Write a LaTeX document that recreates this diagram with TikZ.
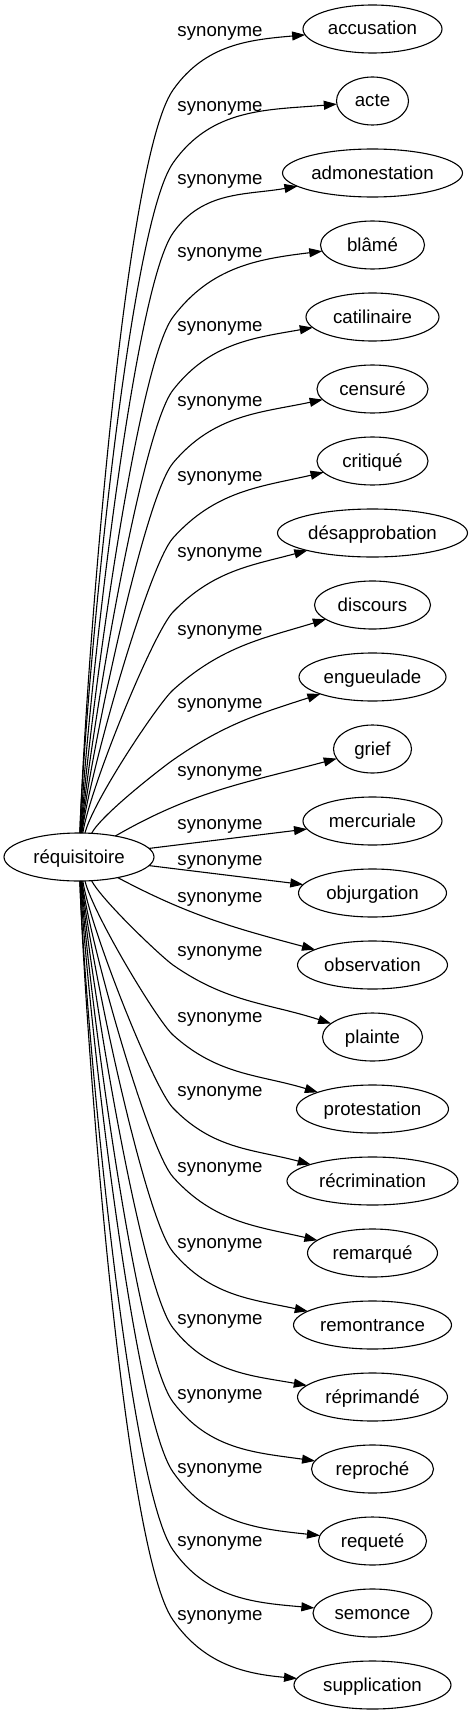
\documentclass[tikz,border=0pt]{standalone}
\usepackage{fontspec}
\setmainfont{Liberation Sans}
\usetikzlibrary{positioning, arrows.meta, shapes.geometric}

\begin{document}
\begin{tikzpicture}[
    x=1pt, y=1pt,
    line width=1.1pt,
    >={Triangle[length=13pt, width=9pt]},
    node distance=24pt,
    word/.style={
        ellipse,
        draw,
        inner sep=0pt,
        outer sep=0pt,
        minimum height=48pt,
        text height=14pt,
        text depth=2pt,
        font=\fontsize{18.67pt}{22pt}\selectfont
    },
    rel/.style={font=\fontsize{18.67pt}{22pt}\selectfont},
    arrow/.style={->}
]
\useasboundingbox (0,0) rectangle (472,-1715);

% Source word
\node[word, minimum width=150pt] (req) at (79,-857) {réquisitoire};

% Synonyms, one column
\node[word, minimum width=139pt] (acc) at (372.5,-29) {accusation};
\node[word, minimum width=72pt, below=of acc] (acte) {acte};
\node[word, minimum width=180pt, below=of acte] (admo) {admonestation};
\node[word, minimum width=104pt, below=of admo] (blame) {blâmé};
\node[word, minimum width=133pt, below=of blame] (cati) {catilinaire};
\node[word, minimum width=111pt, below=of cati] (cens) {censuré};
\node[word, minimum width=111pt, below=of cens] (crit) {critiqué};
\node[word, minimum width=190pt, below=of crit] (desa) {désapprobation};
\node[word, minimum width=116pt, below=of desa] (disc) {discours};
\node[word, minimum width=147pt, below=of disc] (engu) {engueulade};
\node[word, minimum width=78pt, below=of engu] (grief) {grief};
\node[word, minimum width=139pt, below=of grief] (merc) {mercuriale};
\node[word, minimum width=148pt, below=of merc] (obju) {objurgation};
\node[word, minimum width=150pt, below=of obju] (obse) {observation};
\node[word, minimum width=100pt, below=of obse] (plai) {plainte};
\node[word, minimum width=152pt, below=of plai] (prot) {protestation};
\node[word, minimum width=171pt, below=of prot] (recr) {récrimination};
\node[word, minimum width=130pt, below=of recr] (rema) {remarqué};
\node[word, minimum width=158pt, below=of rema] (remo) {remontrance};
\node[word, minimum width=150pt, below=of remo] (repr) {réprimandé};
\node[word, minimum width=122pt, below=of repr] (repro) {reproché};
\node[word, minimum width=108pt, below=of repro] (requ) {requeté};
\node[word, minimum width=119pt, below=of requ] (semo) {semonce};
\node[word, minimum width=157pt, below=of semo] (supp) {supplication};

% Edge labels
\node[rel] (syn1) at (220,-33) {synonyme};
\node[rel] (syn2) at (220,-108) {synonyme};
\node[rel] (syn3) at (220,-181) {synonyme};
\node[rel] (syn4) at (220,-254) {synonyme};
\node[rel] (syn5) at (220,-328) {synonyme};
\node[rel] (syn6) at (220,-403) {synonyme};
\node[rel] (syn7) at (220,-478) {synonyme};
\node[rel] (syn8) at (220,-554) {synonyme};
\node[rel] (syn9) at (220,-632) {synonyme};
\node[rel] (syn10) at (220,-705) {synonyme};
\node[rel] (syn11) at (220,-773) {synonyme};
\node[rel] (syn12) at (220,-826) {synonyme};
\node[rel] (syn13) at (220,-862) {synonyme};
\node[rel] (syn14) at (220,-899) {synonyme};
\node[rel] (syn15) at (220,-953) {synonyme};
\node[rel] (syn16) at (220,-1019) {synonyme};
\node[rel] (syn17) at (220,-1093) {synonyme};
\node[rel] (syn18) at (220,-1169) {synonyme};
\node[rel] (syn19) at (220,-1245) {synonyme};
\node[rel] (syn20) at (220,-1321) {synonyme};
\node[rel] (syn21) at (220,-1396) {synonyme};
\node[rel] (syn22) at (220,-1470) {synonyme};
\node[rel] (syn23) at (220,-1543) {synonyme};
\node[rel] (syn24) at (220,-1617) {synonyme};

% Arrows - upper fan
\draw[arrow] (req) to[out=88, in=235, out looseness=0.5, in looseness=0.3] (173,-90) to[out=55, in=185] (acc);
\draw[arrow] (req) to[out=88, in=235, out looseness=0.5, in looseness=0.3] (173,-163) to[out=55, in=185] (acte);
\draw[arrow] (req) to[out=87, in=235, out looseness=0.5, in looseness=0.3] (173,-233) to[out=55, in=190] (admo);
\draw[arrow] (req) to[out=86, in=233, out looseness=0.5, in looseness=0.3] (173,-317) to[out=53, in=187] (blame);
\draw[arrow] (req) to[out=85, in=232, out looseness=0.5, in looseness=0.3] (173,-390) to[out=52, in=190] (cati);
\draw[arrow] (req) to[out=84, in=230, out looseness=0.5, in looseness=0.3] (173,-463) to[out=50, in=192] (cens);
\draw[arrow] (req) to[out=83, in=228, out looseness=0.5, in looseness=0.3] (173,-538) to[out=48, in=193] (crit);
\draw[arrow] (req) to[out=81, in=226, out looseness=0.5, in looseness=0.3] (173,-612) to[out=46, in=195] (desa);
\draw[arrow] (req) to[out=76, in=222, out looseness=0.5, in looseness=0.3] (173,-690) to[out=42, in=197] (disc);
\draw[arrow] (req) to[out=62, in=215, out looseness=0.5, in looseness=0.3] (173,-760) to[out=35, in=198] (engu);

% Arrows - middle
\draw[arrow] (req) to[out=30, in=195] (grief);
\draw[arrow] (req) -- (merc);
\draw[arrow] (req) -- (obju);
\draw[arrow] (req) to[out=-28, in=165] (obse);

% Arrows - lower fan
\draw[arrow] (req) to[out=-62, in=145, out looseness=0.5, in looseness=0.3] (173,-965) to[out=-35, in=162] (plai);
\draw[arrow] (req) to[out=-76, in=138, out looseness=0.5, in looseness=0.3] (173,-1035) to[out=-42, in=163] (prot);
\draw[arrow] (req) to[out=-81, in=134, out looseness=0.5, in looseness=0.3] (173,-1108) to[out=-46, in=165] (recr);
\draw[arrow] (req) to[out=-83, in=132, out looseness=0.5, in looseness=0.3] (173,-1177) to[out=-48, in=167] (rema);
\draw[arrow] (req) to[out=-84, in=130, out looseness=0.5, in looseness=0.3] (173,-1252) to[out=-50, in=168] (remo);
\draw[arrow] (req) to[out=-85, in=128, out looseness=0.5, in looseness=0.3] (173,-1328) to[out=-52, in=170] (repr);
\draw[arrow] (req) to[out=-86, in=127, out looseness=0.5, in looseness=0.3] (173,-1402) to[out=-53, in=172] (repro);
\draw[arrow] (req) to[out=-87, in=125, out looseness=0.5, in looseness=0.3] (173,-1472) to[out=-55, in=174] (requ);
\draw[arrow] (req) to[out=-88, in=125, out looseness=0.5, in looseness=0.3] (173,-1550) to[out=-55, in=175] (semo);
\draw[arrow] (req) to[out=-88, in=125, out looseness=0.5, in looseness=0.3] (173,-1620) to[out=-55, in=175] (supp);

\end{tikzpicture}
\end{document}
